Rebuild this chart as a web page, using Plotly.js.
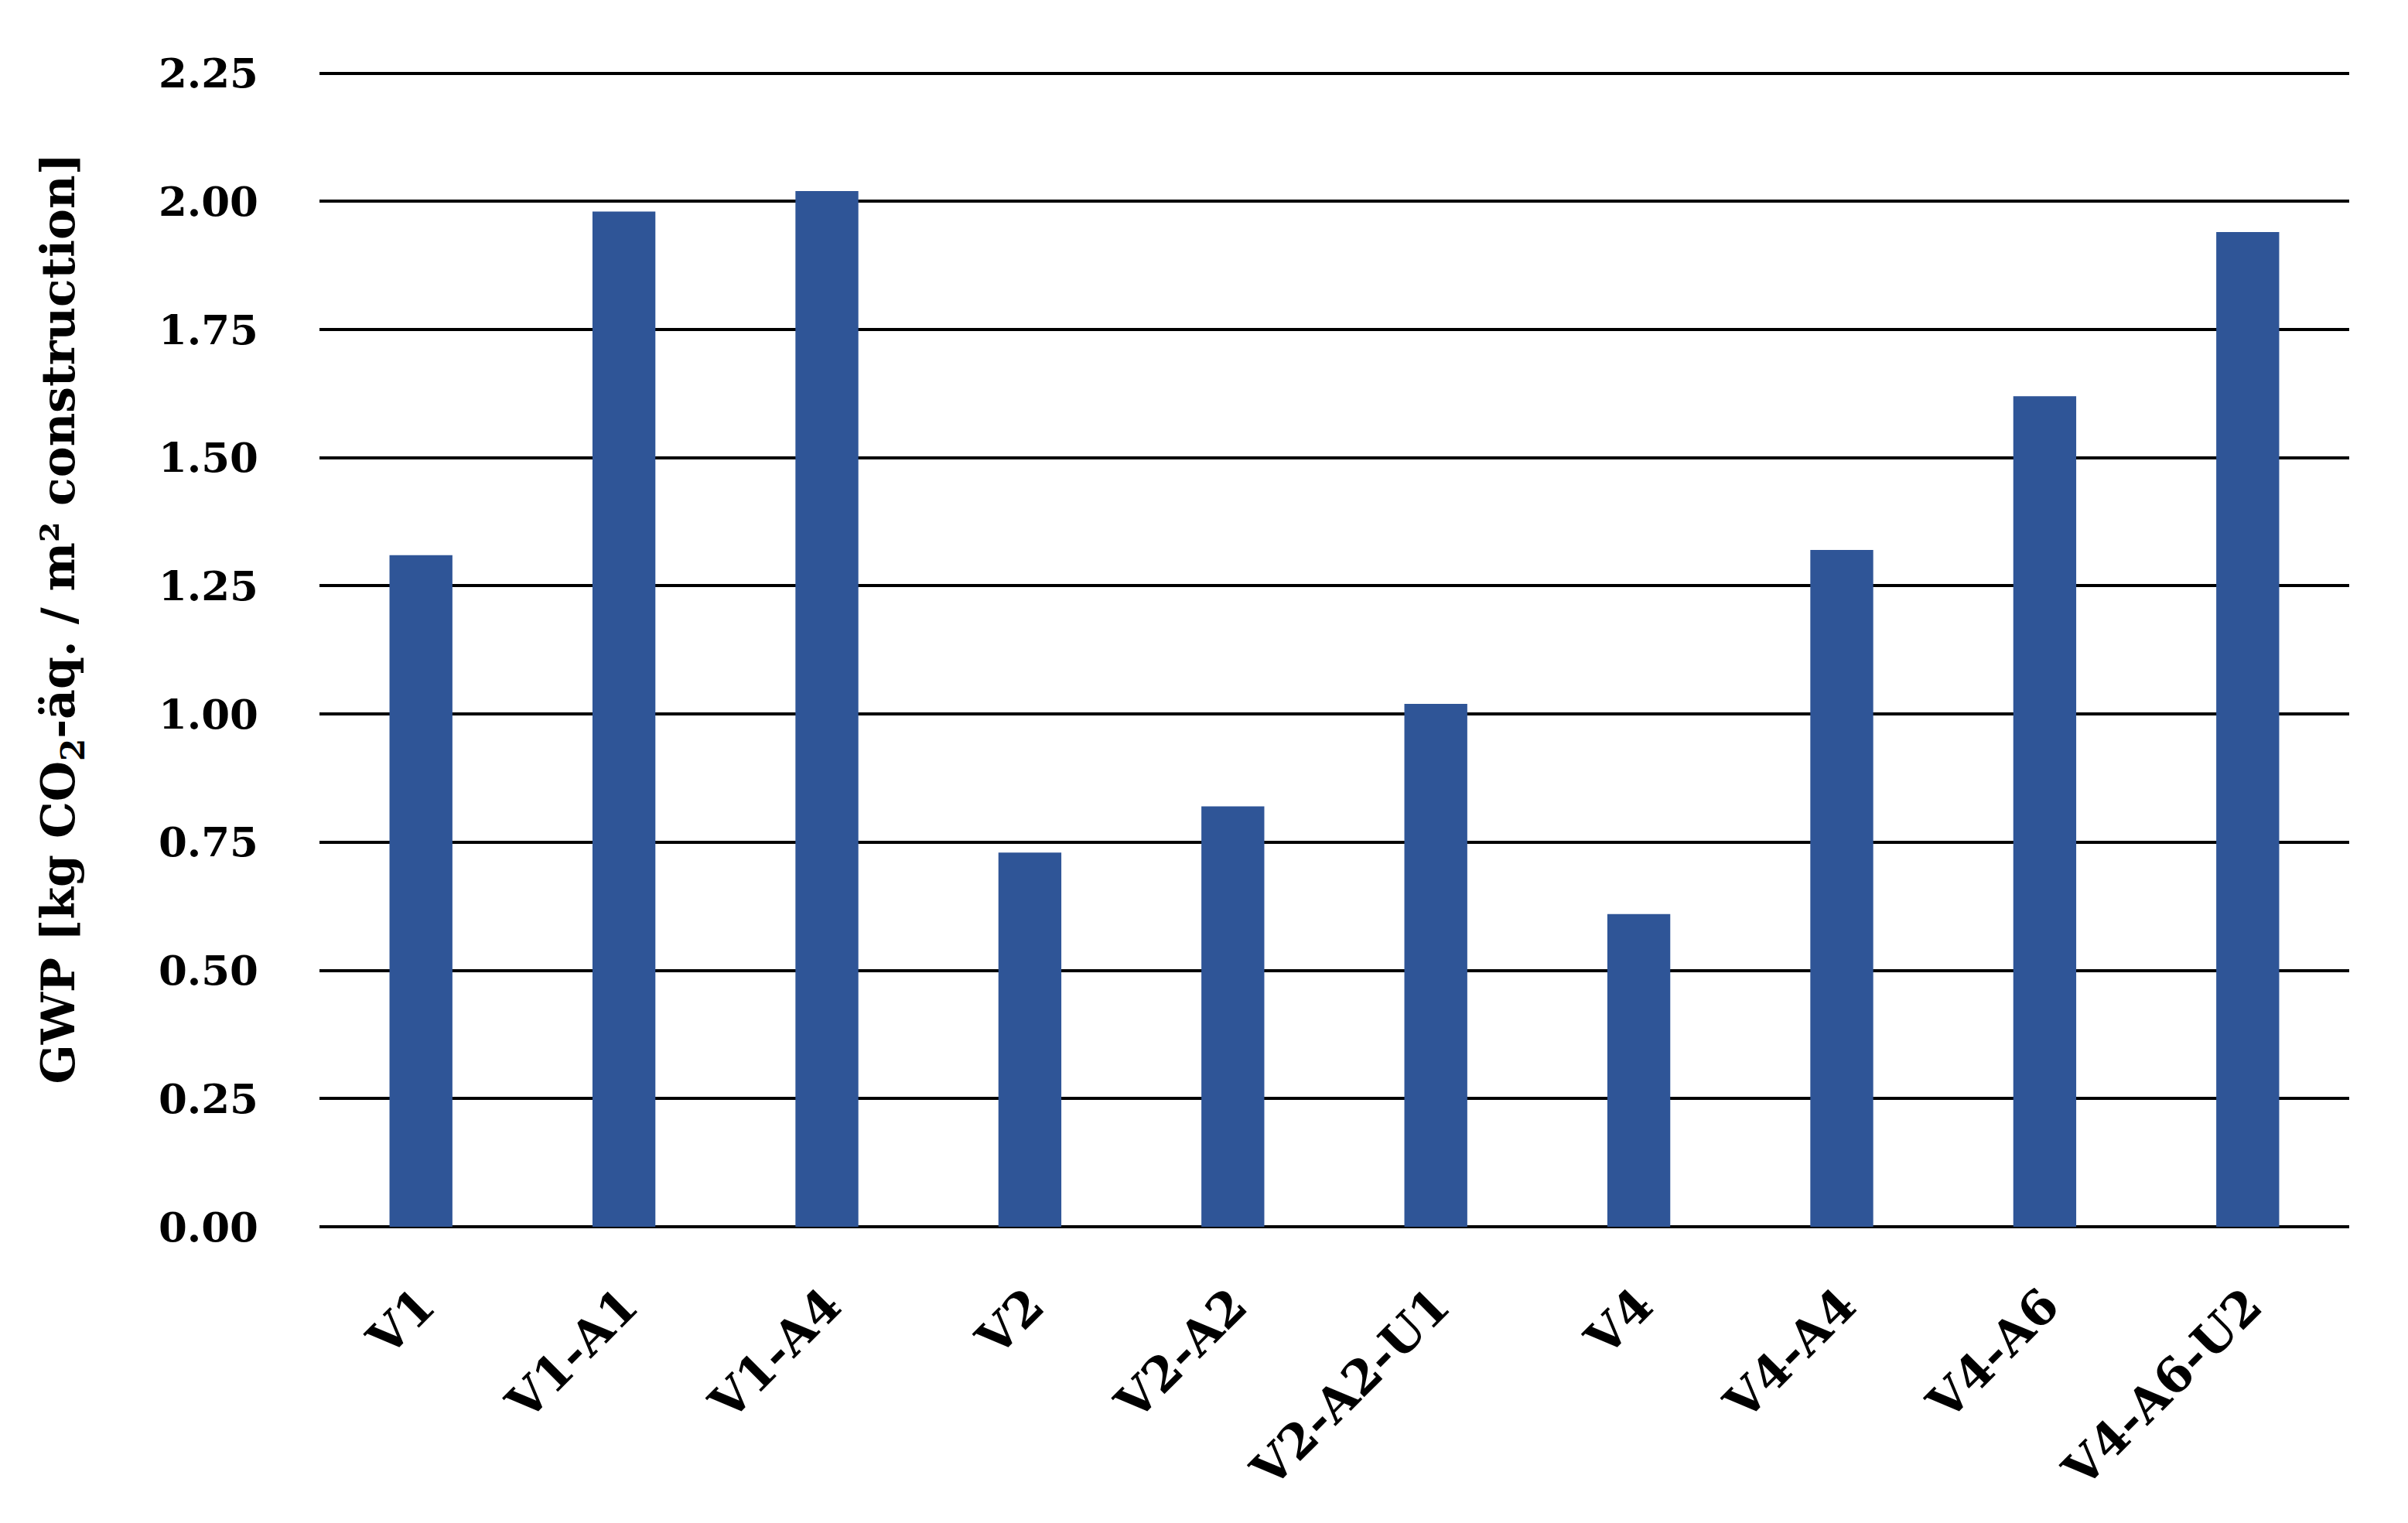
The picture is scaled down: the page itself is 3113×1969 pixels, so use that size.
<!DOCTYPE html>
<html>
<head>
<meta charset="utf-8">
<script src="https://cdn.plot.ly/plotly-3.0.1.min.js"></script>
<style>html,body{margin:0;padding:0;background:#fff;}#chart{width:3113px;height:1969px;}</style>
</head>
<body>
<div id="chart"></div>
<script>
const categories = ["V1", "V1-A1", "V1-A4", "V2", "V2-A2", "V2-A2-U1", "V4", "V4-A4", "V4-A6", "V4-A6-U2"];
const gwpValues = [1.31, 1.98, 2.02, 0.73, 0.82, 1.02, 0.61, 1.32, 1.62, 1.94];
const yTickValues = [0, 0.25, 0.5, 0.75, 1.0, 1.25, 1.5, 1.75, 2.0, 2.25];
const yTickLabels = ["0.00", "0.25", "0.50", "0.75", "1.00", "1.25", "1.50", "1.75", "2.00", "2.25"];
const yTitle = "GWP [kg CO<sub>2</sub>-äq. / m² construction]";

const FONT = "'DejaVu Serif', 'Liberation Serif', serif";

const trace = {
  type: "bar",
  x: categories,
  y: gwpValues,
  marker: { color: "#2F5597", line: { width: 0 } },
  hoverinfo: "skip"
};

const layout = {
  width: 3113,
  height: 1969,
  paper_bgcolor: "#ffffff",
  plot_bgcolor: "#ffffff",
  showlegend: false,
  bargap: 0.69,
  margin: { l: 413, r: 76, t: 88, b: 383, pad: 0 },
  font: { family: FONT, color: "#000000" },
  xaxis: {
    type: "category",
    tickangle: -45,
    tickfont: { family: FONT, size: 62, color: "#000", weight: "bold" },
    ticks: "",
    ticklabelstandoff: 52,
    showline: false,
    showgrid: false,
    zeroline: false
  },
  yaxis: {
    range: [0, 2.26],
    tickmode: "array",
    tickvals: yTickValues,
    ticktext: yTickLabels,
    tickfont: { family: FONT, size: 53, color: "#000", weight: "bold" },
    ticks: "",
    ticklabelstandoff: 78,
    showgrid: true,
    gridcolor: "#000000",
    gridwidth: 4,
    zeroline: true,
    zerolinecolor: "#000000",
    zerolinewidth: 4,
    showline: false
  },
  annotations: [{
    text: yTitle,
    xref: "paper",
    yref: "paper",
    x: 0,
    y: 0.525,
    xanchor: "center",
    yanchor: "middle",
    xshift: -333,
    textangle: -90,
    showarrow: false,
    font: { family: FONT, size: 60, color: "#000", weight: "bold" }
  }]
};

Plotly.newPlot("chart", [trace], layout, { displayModeBar: false, staticPlot: true });
</script>
</body>
</html>
